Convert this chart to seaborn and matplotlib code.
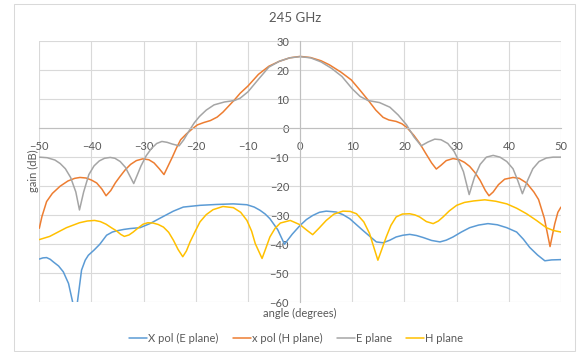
import matplotlib
matplotlib.use("Agg")
import matplotlib.pyplot as plt
from matplotlib.patches import Rectangle
from matplotlib.lines import Line2D
import seaborn as sns
import pandas as pd

# ---------------- data ----------------
title = "245 GHz"
series_names = ["X pol (E plane)", "x pol (H plane)", "E plane", "H plane"]
colors = ["#5B9BD5", "#ED7D31", "#A5A5A5", "#FFC000"]

xpolE_angle = [-50, -49.3, -48.6, -47.9, -47.3, -46.3, -45.4, -44.4, -43.6, -43.1, -42.7, -41.9,
               -41.2, -40.6, -39.5, -38.4, -37.1, -36, -35.2, -33.8, -32.6, -30.7, -28.8, -26.2,
               -24.3, -22.4, -19.2, -16.0, -12.8, -10.2, -8.8, -7.7, -6.7, -5.8, -4.3, -3.0, -1.5,
               0, 1.2, 2.4, 3.7, 5.0, 6.9, 8.2, 9.5, 12.0, 14.6, 15.9, 17.2, 18.4, 19.7, 21.0,
               22.3, 23.6, 25.2, 26.8, 28, 29.3, 30.9, 32.5, 34.2, 36.0, 37.8, 39.6, 41.5, 42.8,
               44.0, 45.5, 46.9, 48.2, 50]
xpolE_gain = [-45.1, -44.7, -44.6, -45.2, -46.1, -47.5, -49.5, -53.5, -60, -66, -60, -48.9,
              -45.5, -43.8, -42, -40, -36.9, -35.8, -35.4, -34.9, -34.6, -34.3, -32.9, -30.4,
              -28.6, -27.2, -26.6, -26.3, -26.1, -26.4, -27.2, -28.3, -29.6, -31.2, -35, -40, -36.5,
              -33.5, -31.5, -30.1, -29, -28.6, -28.9, -29.8, -31.2, -35.2, -39.2, -39.5, -38.6, -37.5, -36.9, -36.6,
              -37, -37.7, -38.7, -39.2, -38.6, -37.5, -35.8, -34.3, -33.4, -32.9, -33.3, -34.3, -35.8, -38.3,
              -41.1, -43.7, -45.7, -45.4, -45.3]

xpolH_angle = [-50, -49.5, -48.6, -47.5, -46, -44.5, -43.2, -42.2, -41, -40, -39, -38, -37.2, -36.3,
               -35.4, -34.5, -33.5, -32.5, -31.4, -30.2, -29, -28, -27, -26.1, -25.3, -24.5, -23.7,
               -22.9, -21.8, -20.7, -19.7, -18.5, -17.2, -15.9, -14.8, -13.7, -12.6, -11.5, -10,
               -8, -6, -4, -2, 0, 2, 4, 5.6, 7.8, 9.8, 11.5, 13, 14.5, 15.9, 17, 18.4, 19.5, 20.4,
               21.8, 22.9, 24, 25.2, 26.1, 27, 28, 29.3, 30.5, 31.5, 32.5, 33.5, 34.5, 35.5, 36.2,
               37, 38, 39.2, 40.8, 42, 43.4, 44.8, 45.7, 46.8, 47.9, 48.8, 49.4, 50]
xpolH_gain = [-34.5, -30.5, -25.3, -22.5, -20, -18.2, -17.3, -17.0, -17.2, -17.9, -18.9, -21, -23.3, -21.5,
              -18.8, -16.6, -14.3, -12.5, -11.2, -10.6, -10.9, -12, -14, -16.0, -13, -10, -6.8,
              -4.0, -2.0, -0.3, 1.1, 1.9, 2.6, 3.8, 5.5, 7.6, 9.7, 12, 14.5,
              18.5, 21.3, 23, 24.2, 24.7, 24.3, 23.2, 21.8, 19.3, 16.6, 13, 9.7, 6.2, 3.7, 2.8, 2.3, 1.5, 0.3,
              -2.5, -5.2, -8.5, -12, -14.1, -12.8, -11.2, -10.5, -10.9, -11.8, -13.2, -15.3, -18, -21.5, -23.3,
              -22, -19.5, -17.6, -17.0, -17.3, -18.9, -22, -24.6, -31, -40.8, -33, -29, -27.2]

eplane_angle = [-50, -48.5, -47, -46, -45, -44, -43, -42.3, -41.5, -40.5, -39.5, -38.5, -37.5, -36.4,
                -35.5, -34.5, -33.5, -32.5, -31.9, -31.3, -30.5, -29.5, -28.5, -27.5, -26.5, -25.5,
                -24.5, -23.2, -22.3, -21.3, -20.3, -19.3, -18, -16.5, -14.5, -12.6, -11.5, -10, -8,
                -6, -4, -2, 0, 2, 4, 6, 8, 10, 11.5, 13, 15.2, 17.2, 18.8, 20.4, 21.8, 23.2, 24.5,
                25.8, 27, 28.3, 29.5, 30.3, 31.3, 32.4, 33.4, 34.5, 35.7, 37, 38.3, 39.6, 40.8,
                41.7, 42.6, 43.6, 44.6, 45.8, 47.2, 48.5, 50]
eplane_gain = [-10.0, -10.2, -11.0, -12.2, -14, -17, -22, -28.2, -22, -16, -13, -11.3, -10.4, -10.1,
               -10.4, -11.5, -13.5, -17, -19.1, -16.5, -13, -9.5, -7, -5.3, -4.6, -4.9,
               -5.5, -6.1, -4, -1, 1.8, 4, 6.2, 8.0, 9.0, 9.5, 10.3, 12.5, 16.8,
               21, 23, 24.2, 24.6, 24.2, 22.8, 20.6, 17.8, 13.5, 10.9, 9.5, 8.8, 7.2, 4.5, 1.1, -3, -6.1, -4.8,
               -3.8, -4.0, -5.3, -8, -10.9, -15, -22.9, -17, -12.5, -10, -9.4, -10, -11.5, -14,
               -18, -22.6, -18, -14, -11.5, -10.3, -10.0, -10.0]

hplane_angle = [-50, -48, -46.4, -44.8, -42.3, -40.8, -39.4, -38.3, -37.2, -36.2, -35.2, -34.4, -33.7,
                -32.8, -32.0, -31, -30.1, -29.2, -28.2, -27.2, -26.2, -25.2, -24.3, -23.4, -22.5,
                -21.8, -21.1, -20.1, -19.2, -18, -16.7, -14.8, -12.8, -11.4, -10.2, -9.3, -8.6, -7.3,
                -6.6, -5.8, -4.8, -3.8, -1.9, 0, 1.3, 2.4, 3.6, 5.0, 6.5, 8.2, 9.6, 10.8, 12.2, 13.3,
                14.2, 14.9, 15.7, 16.5, 17.4, 18.4, 19.6, 21.0, 22.0, 22.9, 24.2, 25.5, 26.5, 27.4,
                28.6, 30.0, 31.5, 33.2, 35.4, 37.5, 39.6, 41.5, 43.4, 45.3, 47.2, 48.6, 50]
hplane_gain = [-38.4, -37.3, -35.8, -34.3, -32.6, -32.0, -31.8, -32.2, -33.1, -34.3, -35.4, -36.6, -37.3,
               -36.8, -35.8, -34.3, -33.1, -32.6, -32.7, -33.2, -34.1, -35.9, -38.6, -41.8, -44.3,
               -42.3, -39.2, -35.5, -32.3, -29.8, -28.1, -27.0, -27.4, -29, -31.8, -35.5, -39.8, -44.9,
               -41.5, -37.5, -34.5, -32.7, -31.8, -33.3, -35.2, -36.7, -34.5, -31.8, -29.6, -28.6, -28.7, -29.5, -32.3, -36.3,
               -41.5, -45.5, -41.5, -37.5, -33.5, -30.6, -29.6, -29.5, -29.9, -30.6, -32.2, -32.9, -32, -30.6,
               -28.5, -26.6, -25.6, -25.1, -24.7, -25.2, -26.1, -27.6, -29.5, -31.8, -34.3, -35.3, -35.8]

x_ticks = list(range(-50, 51, 10))
y_ticks = list(range(-60, 31, 10))
x_label = "angle (degrees)"
y_label = "gain (dB)"

# ---------------- style ----------------
sns.set_theme(style="white")
plt.rcParams["font.family"] = ["Lato", "DejaVu Sans"]
txt = "#595959"
grid_c = "#D9D9D9"

W, H = 577, 352
fig = plt.figure(figsize=(W / 100, H / 100), dpi=100)
fig.patch.set_facecolor("white")

# chart-area border
fig.patches.append(Rectangle((14 / W, 1 - 351 / H), (575 - 14) / W, (351 - 4) / H,
                             transform=fig.transFigure, fill=False,
                             edgecolor=grid_c, lw=0.75))

ax = fig.add_axes([39.3 / W, 1 - 302.3 / H, (561 - 39.3) / W, (302.3 - 41) / H])

data = [(xpolE_angle, xpolE_gain), (xpolH_angle, xpolH_gain),
        (eplane_angle, eplane_gain), (hplane_angle, hplane_gain)]
for (a, g), name, c in zip(data, series_names, colors):
    df = pd.DataFrame({"angle": a, "gain": g})
    sns.lineplot(data=df, x="angle", y="gain", ax=ax, color=c, lw=1.1,
                 sort=False, estimator=None, label=name, legend=False,
                 solid_joinstyle="round", solid_capstyle="round")

ax.set_xlim(-50, 50)
ax.set_ylim(-60, 30)
ax.set_xticks(x_ticks)
ax.set_yticks(y_ticks)
ax.set_xlabel("")
ax.set_ylabel("")
ax.grid(True, color=grid_c, lw=0.8)
ax.set_axisbelow(True)
for s in ["top", "right"]:
    ax.spines[s].set_visible(False)
ax.spines["left"].set_position(("data", 0))
ax.spines["bottom"].set_position(("data", 0))
ax.spines["left"].set_color("#BFBFBF")
ax.spines["bottom"].set_color("#BFBFBF")
ax.spines["left"].set_linewidth(0.8)
ax.spines["bottom"].set_linewidth(0.8)
ax.tick_params(axis="x", length=0, pad=9, labelsize=8, labelcolor=txt)
ax.tick_params(axis="y", length=0, pad=8, labelsize=8, labelcolor=txt)

fig.text(295 / W, 1 - 18 / H, title, ha="center", va="center", fontsize=9.5, color=txt)
fig.text(300 / W, 1 - 313 / H, x_label, ha="center", va="center", fontsize=8, color=txt)
fig.text(33 / W, 1 - 171 / H, y_label, ha="center", va="center", rotation=90,
         fontsize=8, color=txt)

handles = [Line2D([], [], color=c, lw=1.1) for c in colors]
fig.legend(handles, series_names, loc="center", bbox_to_anchor=(296 / W, 1 - 338 / H),
           ncol=4, frameon=False, fontsize=8, labelcolor=txt, handlelength=1.6,
           handletextpad=0.1, columnspacing=1.3)

fig.savefig("out.png", dpi=100)
